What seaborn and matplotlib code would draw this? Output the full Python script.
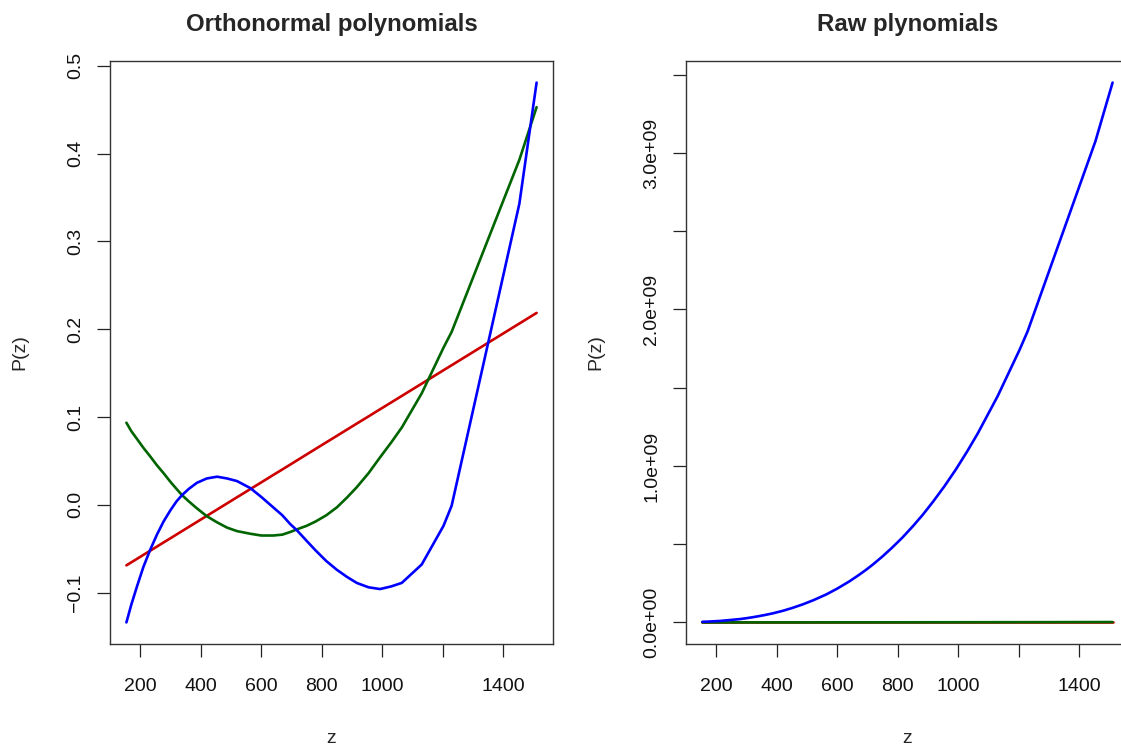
import matplotlib
matplotlib.use("Agg")
import matplotlib.pyplot as plt
import seaborn as sns
import pandas as pd

# z-Werte (am Ende unregelmaessig)
z = [154, 170, 189, 210, 233, 255, 277, 300, 320, 338, 360, 387, 420, 454,
     487, 520, 564, 600, 640, 670, 696, 718, 750, 780, 815, 850, 883, 916,
     955, 993, 1030, 1065, 1131, 1203, 1230, 1454, 1511]

# Orthonormale Polynome, Grad 1..3
orth_p1 = [-0.0690, -0.0656, -0.0616, -0.0571, -0.0523, -0.0476, -0.0429,
           -0.0381, -0.0338, -0.0300, -0.0253, -0.0196, -0.0126, -0.0054,
           0.0016, 0.0086, 0.0179, 0.0255, 0.0340, 0.0403, 0.0458, 0.0505,
           0.0573, 0.0637, 0.0711, 0.0785, 0.0855, 0.0925, 0.1007, 0.1088,
           0.1166, 0.1240, 0.1380, 0.1533, 0.1590, 0.2065, 0.2186]
orth_p2 = [0.0935, 0.084, 0.075, 0.065, 0.055, 0.045, 0.036, 0.026, 0.018,
           0.011, 0.004, -0.004, -0.013, -0.020, -0.026, -0.030, -0.033,
           -0.035, -0.035, -0.034, -0.031, -0.028, -0.024, -0.019, -0.012,
           -0.003, 0.008, 0.020, 0.036, 0.054, 0.071, 0.088, 0.127, 0.179,
           0.197, 0.393, 0.453]
orth_p3 = [-0.134, -0.114, -0.093, -0.071, -0.051, -0.034, -0.019, -0.006,
           0.004, 0.011, 0.018, 0.025, 0.030, 0.032, 0.030, 0.027, 0.019,
           0.009, -0.003, -0.012, -0.022, -0.029, -0.041, -0.052, -0.064,
           -0.074, -0.082, -0.089, -0.094, -0.096, -0.093, -0.089, -0.068,
           -0.024, -0.001, 0.343, 0.481]

raw_p1 = list(z)
raw_p2 = [23716, 28900, 35721, 44100, 54289, 65025, 76729, 90000, 102400,
          114244, 129600, 149769, 176400, 206116, 237169, 270400, 318096,
          360000, 409600, 448900, 484416, 515524, 562500, 608400, 664225,
          722500, 779689, 839056, 912025, 986049, 1060900, 1134225, 1279161,
          1447209, 1512900, 2114116, 2283121]
raw_p3_bn = [0.004, 0.005, 0.007, 0.009, 0.013, 0.017, 0.021, 0.027, 0.033,
             0.039, 0.047, 0.058, 0.074, 0.094, 0.116, 0.141, 0.179, 0.216,
             0.262, 0.301, 0.337, 0.370, 0.422, 0.475, 0.541, 0.614, 0.688,
             0.769, 0.871, 0.979, 1.093, 1.208, 1.447, 1.741, 1.861, 3.074,
             3.450]
raw_p3 = [v * 1e9 for v in raw_p3_bn]

x_ticks = [200, 400, 600, 800, 1000, 1200, 1400]
x_labels = ["200", "400", "600", "800", "1000", "", "1400"]
orth_ticks = [-0.1, 0.0, 0.1, 0.2, 0.3, 0.4, 0.5]
orth_labels = ["\u22120.1", "0.0", "0.1", "0.2", "0.3", "0.4", "0.5"]
raw_ticks = [0, 0.5e9, 1e9, 1.5e9, 2e9, 2.5e9, 3e9, 3.5e9]
raw_labels = ["0.0e+00", "", "1.0e+09", "", "2.0e+09", "", "3.0e+09", ""]

colors = {"p1": "#CD0000", "p2": "#006400", "p3": "#0000FF"}

sns.set_style("white")
plt.rcParams["font.family"] = ["Liberation Sans", "DejaVu Sans"]


def long_df(p1, p2, p3):
    frames = []
    for name, vals in (("p1", p1), ("p2", p2), ("p3", p3)):
        frames.append(pd.DataFrame({"z": z, "P": vals, "deg": name}))
    return pd.concat(frames, ignore_index=True)


def r_lim(vals):
    # R-Stil: 4% Rand
    lo, hi = min(vals), max(vals)
    pad = (hi - lo) * 0.04
    return lo - pad, hi + pad


fig = plt.figure(figsize=(11.21, 7.46), dpi=100)
ax1 = fig.add_axes([110 / 1121, 1 - 644 / 746, 443 / 1121, 583 / 746])
ax2 = fig.add_axes([686 / 1121, 1 - 644 / 746, 443 / 1121, 583 / 746])

panels = [
    (ax1, long_df(orth_p1, orth_p2, orth_p3), "Orthonormal polynomials",
     orth_ticks, orth_labels),
    (ax2, long_df(raw_p1, raw_p2, raw_p3), "Raw plynomials",
     raw_ticks, raw_labels),
]

for ax, df, title, yt, yl in panels:
    sns.lineplot(data=df, x="z", y="P", hue="deg", palette=colors,
                 estimator=None, sort=False, linewidth=1.9, legend=False, ax=ax)
    ax.set_xlim(*r_lim(z))
    ax.set_ylim(*r_lim(df["P"]))
    ax.set_xticks(x_ticks)
    ax.set_xticklabels(x_labels)
    ax.set_yticks(yt)
    ax.set_yticklabels(yl, rotation=90, va="center")
    ax.tick_params(axis="both", direction="out", length=9.5, width=0.9,
                   color="#222222", labelsize=14, labelcolor="#111111",
                   bottom=True, left=True)
    ax.tick_params(axis="x", pad=15)
    ax.tick_params(axis="y", pad=9)
    for sp in ax.spines.values():
        sp.set_visible(True)
        sp.set_color("#333333")
        sp.set_linewidth(1.0)
    ax.set_xlabel("z", fontsize=14)
    ax.set_ylabel("P(z)", fontsize=14)
    ax.xaxis.set_label_coords(0.5, -0.147)
    ax.yaxis.set_label_coords(-0.185, 0.5)
    ax.set_title(title, fontsize=17.3, fontweight="bold", y=1.051, pad=0)

fig.savefig("out.png", dpi=100)
